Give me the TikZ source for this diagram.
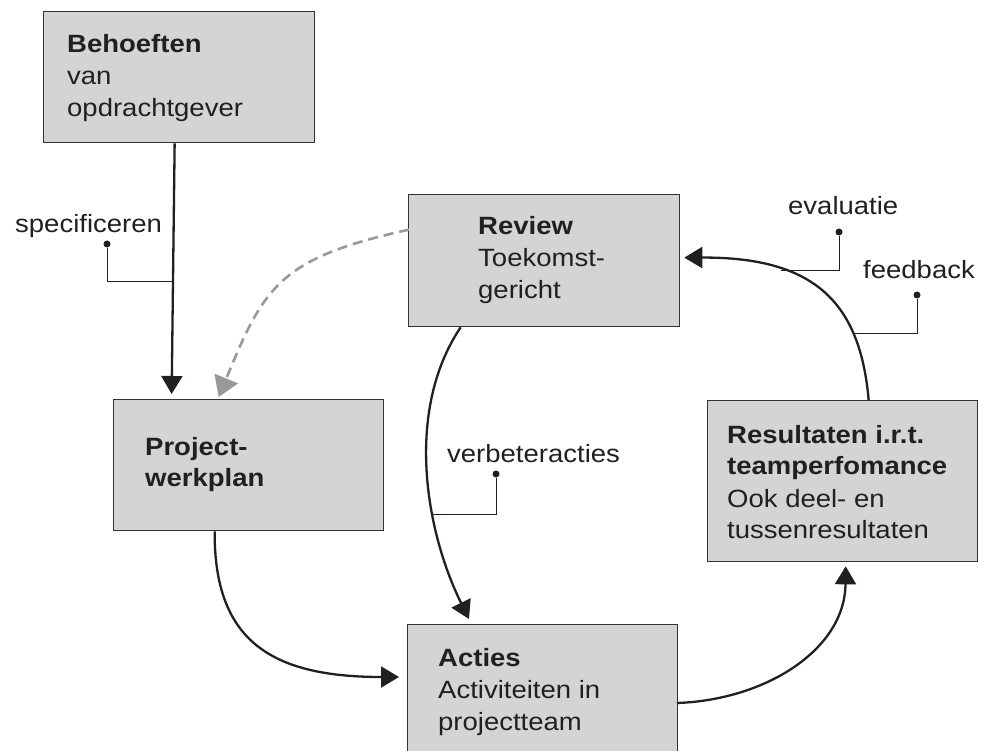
\documentclass[tikz,border=0pt]{standalone}
\usepackage{fontspec}
\setmainfont{Liberation Sans}[FakeStretch=1.1]
\usetikzlibrary{arrows.meta}

\definecolor{boxfill}{HTML}{D3D4D6}
\definecolor{boxline}{HTML}{333333}
\definecolor{ink}{HTML}{231F20}
\definecolor{dashgray}{HTML}{999999}

% left-aligned block of lines whose reference point is the first baseline
\newcommand{\boxlines}[1]{\begin{tabular}[t]{@{}l@{}}#1\end{tabular}}

\begin{document}
\begin{tikzpicture}[x=1pt, y=-1pt,
    font=\fontsize{25}{32}\selectfont, text=ink,
    card/.style={draw=boxline, fill=boxfill, line width=1.3pt,
      anchor=north west, inner sep=0pt, minimum width=270pt},
    cardtext/.style={anchor=base west, inner sep=0pt},
    flow/.style={draw=ink, line width=2.3pt,
      -{Triangle[length=18pt, width=21pt]}},
    backflow/.style={draw=dashgray, line width=2.6pt, dash pattern=on 10pt off 6pt,
      -{Triangle[length=20pt, width=25pt]}},
    leader/.style={draw=ink, line width=1pt},
    dot/.style={circle, fill=ink, inner sep=0pt, minimum size=7pt},
    note/.style={anchor=base west, inner sep=0pt}]

  \useasboundingbox (0,0) rectangle (986,751);
  \clip (0,0) rectangle (986,751);

  % boxes
  \node[card, minimum width=271pt, minimum height=131pt] (beh) at (43,11) {};
  \node[card, minimum width=271pt, minimum height=132pt] (rev) at (408,194) {};
  \node[card, minimum height=131pt] (proj) at (113,399) {};
  \node[card, minimum height=161pt] (res) at (707,400) {};
  \node[card, minimum height=140pt] (act) at (407,624) {};

  % box texts
  \node[cardtext] (beh-t) at ([shift={(24,42)}]beh.north west)
    {\boxlines{\textbf{Behoeften}\\van\\opdrachtgever}};
  \node[cardtext] (rev-t) at ([shift={(70,41)}]rev.north west)
    {\boxlines{\textbf{Review}\\Toekomst-\\gericht}};
  \node[cardtext] (proj-t) at ([shift={(32,56)}]proj.north west)
    {\boxlines{\textbf{Project-}\\\textbf{werkplan}}};
  \node[cardtext] (res-t) at ([shift={(20,43)}]res.north west)
    {\boxlines{\textbf{Resultaten i.r.t.}\\\textbf{teamperfomance}\\Ook deel- en\\tussenresultaten}};
  \node[cardtext] (act-t) at ([shift={(31,42)}]act.north west)
    {\boxlines{\textbf{Acties}\\Activiteiten in\\projectteam}};

  % connectors
  \draw[flow] ([xshift=-4.5pt]beh.south) -- coordinate[pos=0.55] (specfoot)
    ([shift={(-77,-5)}]proj.north);
  \draw[backflow] ([shift={(1,-31)}]rev.west)
    .. controls (279,258) and (264,287) .. ([shift={(-30,-2)}]proj.north);
  \draw[flow] ([xshift=-83.5pt]rev.south)
    .. controls (405,410) and (425,530) .. coordinate[pos=0.64] (verbfoot)
    ([shift={(62,-5)}]act.north west);
  \draw[flow] ([xshift=-34pt]proj.south)
    .. controls (214,640) and (270,677) .. ([shift={(-8,53)}]act.north west);
  \draw[flow] ([shift={(270,79)}]act.north west)
    .. controls (765,700) and (845,650) .. ([shift={(3,4)}]res.south);
  \draw[flow] ([xshift=26pt]res.north)
    .. controls (860,300) and (812,257) .. coordinate[pos=0.26] (fbfoot)
    coordinate[pos=0.69] (evfoot) ([shift={(4,-3)}]rev.east);

  % callout labels
  \node[note] (spec) at (15,233) {specificeren};
  \node[dot] (spec-dot) at (107,244) {};
  \draw[leader] (spec-dot) |- (specfoot);

  \node[note] (verb) at (447,462) {verbeteracties};
  \node[dot] (verb-dot) at (496,474) {};
  \draw[leader] (verb-dot) |- (verbfoot);

  \node[note] (ev) at (788,215) {evaluatie};
  \node[dot] (ev-dot) at (839,232) {};
  \draw[leader] (ev-dot) |- (evfoot);

  \node[note] (fb) at (863,279) {feedback};
  \node[dot] (fb-dot) at (917,295) {};
  \draw[leader] (fb-dot) |- (fbfoot);
\end{tikzpicture}
\end{document}
